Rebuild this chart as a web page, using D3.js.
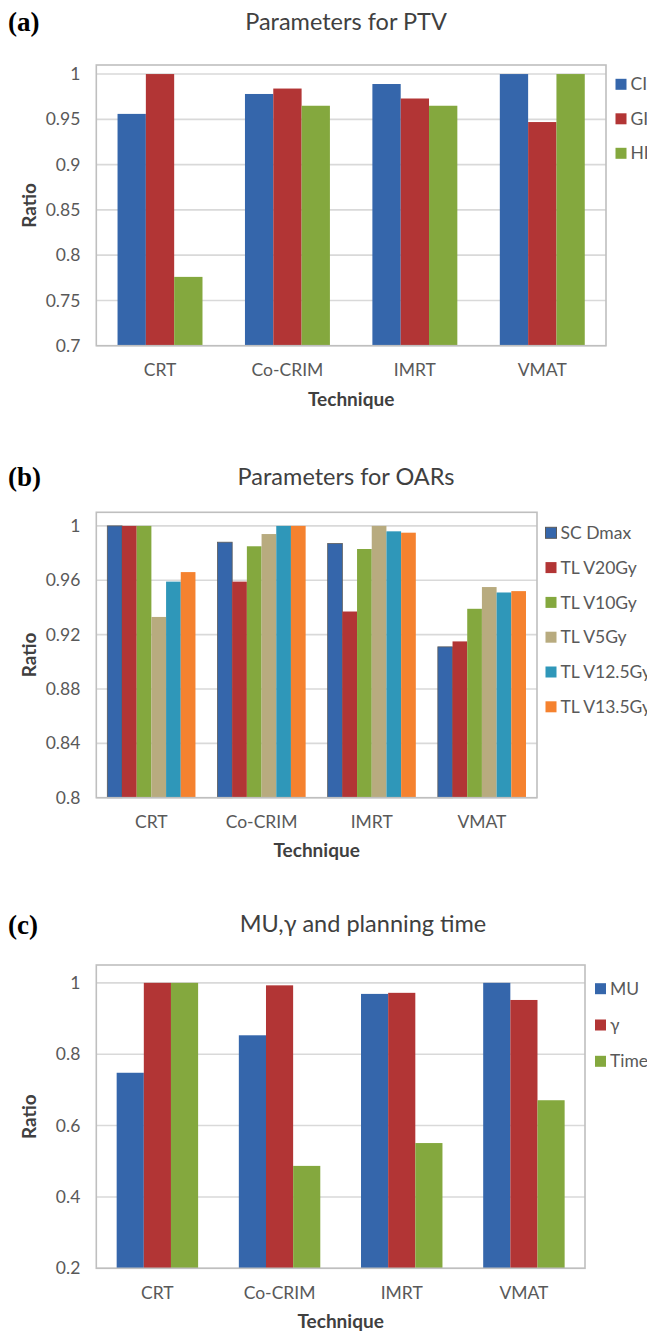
<!DOCTYPE html>
<html>
<head>
<meta charset="utf-8">
<script src="https://cdn.jsdelivr.net/npm/d3@7"></script>
<style>
  body { margin: 0; background: #fff; }
  svg { display: block; font-family: Lato, "Open Sans", sans-serif; }
</style>
</head>
<body>
<svg id="chart" width="647" height="1331"></svg>
<script>
// categories shared by all three panels
const categories = ["CRT", "Co-CRIM", "IMRT", "VMAT"];

// (a) Parameters for PTV
const ptvSeries = ["CI", "GI", "HI"];
const ptvCI = [0.956, 0.978, 0.989, 1.0];
const ptvGI = [1.0, 0.984, 0.973, 0.947];
const ptvHI = [0.776, 0.965, 0.965, 1.0];
const ptvTicks = [0.7, 0.75, 0.8, 0.85, 0.9, 0.95, 1];

// (b) Parameters for OARs
const oarSeries = ["SC Dmax", "TL V20Gy", "TL V10Gy", "TL V5Gy", "TL V12.5Gy", "TL V13.5Gy"];
const oarSCDmax = [1.0, 0.988, 0.987, 0.911];
const oarV20 = [1.0, 0.959, 0.937, 0.915];
const oarV10 = [1.0, 0.985, 0.983, 0.939];
const oarV5 = [0.933, 0.994, 1.0, 0.955];
const oarV125 = [0.959, 1.0, 0.996, 0.951];
const oarV135 = [0.966, 1.0, 0.995, 0.952];
const oarTicks = [0.8, 0.84, 0.88, 0.92, 0.96, 1];

// (c) MU, gamma and planning time
const muSeries = ["MU", "γ", "Time"];
const muMU = [0.748, 0.853, 0.969, 1.0];
const muGamma = [1.0, 0.993, 0.972, 0.952];
const muTime = [1.0, 0.487, 0.551, 0.671];
const muTicks = [0.2, 0.4, 0.6, 0.8, 1];

const blue = "#3566ab", red = "#b23535", green = "#84a83e",
      tan = "#b8ab7f", teal = "#2f97b9", orange = "#f5822f";

const svg = d3.select("#chart");

function drawPanel(p) {
  let g = svg.append("g");

  // panel letter and title
  g.append("text")
      .attr("x", 8).attr("y", p.letterY)
      .attr("font-family", "'Liberation Serif', 'DejaVu Serif', serif")
      .attr("font-weight", "bold").attr("font-size", 27)
      .attr("fill", "#000")
      .text(p.letter);
  g.append("text")
      .attr("x", p.titleX).attr("y", p.titleY)
      .attr("text-anchor", "middle")
      .attr("font-size", 23.5).attr("fill", "#404040")
      .text(p.title);

  let x = d3.scaleBand()
      .domain(categories)
      .range([p.left, p.right])
      .paddingInner(p.pad)
      .paddingOuter(p.pad / 2);
  let xs = d3.scaleBand()
      .domain(p.series)
      .range([0, x.bandwidth()]);
  let y = d3.scaleLinear()
      .domain(p.domain)
      .range([p.bottom, p.top]);

  // gridlines
  g.append("g")
      .selectAll("line")
      .data(p.ticks)
      .join("line")
      .attr("x1", p.left).attr("x2", p.right)
      .attr("y1", d => y(d)).attr("y2", d => y(d))
      .attr("stroke", "#d9d9d9").attr("stroke-width", 1.6);

  // bars
  p.series.forEach((s, i) => {
    g.append("g")
        .selectAll("rect")
        .data(p.values[i])
        .join("rect")
        .attr("x", (d, j) => x(categories[j]) + xs(s))
        .attr("y", d => y(d))
        .attr("width", xs.bandwidth())
        .attr("height", d => p.bottom - y(d))
        .attr("fill", p.colors[i])
        .attr("stroke", p.outline && i == 0 ? "#5a5a5a" : "none")
        .attr("stroke-width", 0.8);
  });

  // plot frame
  g.append("rect")
      .attr("x", p.left).attr("y", p.top)
      .attr("width", p.right - p.left).attr("height", p.bottom - p.top)
      .attr("fill", "none").attr("stroke", "#bfbfbf").attr("stroke-width", 1.6);

  // axes
  let yAxis = g.append("g")
      .attr("transform", "translate(" + p.left + ",0)")
      .call(d3.axisLeft(y).tickValues(p.ticks).tickSize(0).tickPadding(16)
            .tickFormat(d3.format("~g")));
  yAxis.select(".domain").remove();
  yAxis.selectAll("text")
      .attr("font-family", "Lato, sans-serif")
      .attr("font-size", 17.5).attr("fill", "#595959");

  let xAxis = g.append("g")
      .attr("transform", "translate(0," + p.bottom + ")")
      .call(d3.axisBottom(x).tickSize(0).tickPadding(p.xPad));
  xAxis.select(".domain").remove();
  xAxis.selectAll("text")
      .attr("font-family", "Lato, sans-serif")
      .attr("font-size", 17.5).attr("fill", "#595959");

  // axis titles
  g.append("text")
      .attr("x", (p.left + p.right) / 2).attr("y", p.techY)
      .attr("text-anchor", "middle")
      .attr("font-size", 19).attr("font-weight", "bold").attr("fill", "#404040")
      .text("Technique");
  g.append("text")
      .attr("transform", "translate(" + 36 + "," + (p.top + p.bottom) / 2 + ") rotate(-90)")
      .attr("text-anchor", "middle")
      .attr("font-size", 19).attr("font-weight", "bold").attr("fill", "#404040")
      .text("Ratio");

  // legend
  let legend = g.append("g")
      .selectAll("g")
      .data(p.series)
      .join("g")
      .attr("transform", (d, i) => "translate(" + p.legendX + "," + (p.legendY + i * p.legendDy) + ")");
  legend.append("rect")
      .attr("x", 0).attr("y", -5.5)
      .attr("width", 11).attr("height", 11)
      .attr("fill", (d, i) => p.colors[i])
      .attr("stroke", (d, i) => p.outline && i == 0 ? "#5a5a5a" : "none");
  legend.append("text")
      .attr("x", 15).attr("y", 0).attr("dy", "0.35em")
      .attr("font-size", 17.5).attr("fill", "#595959")
      .text(d => d);
}

drawPanel({
  letter: "(a)", letterY: 31, title: "Parameters for PTV", titleX: 346, titleY: 30,
  series: ptvSeries, values: [ptvCI, ptvGI, ptvHI], colors: [blue, red, green],
  left: 96.3, right: 606, top: 65, bottom: 345.7, domain: [0.7, 1.01], ticks: ptvTicks,
  pad: 1 / 3, xPad: 18, techY: 406,
  legendX: 615.5, legendY: 84.3, legendDy: 34.5
});

drawPanel({
  letter: "(b)", letterY: 486, title: "Parameters for OARs", titleX: 346, titleY: 485,
  series: oarSeries, values: [oarSCDmax, oarV20, oarV10, oarV5, oarV125, oarV135],
  colors: [blue, red, green, tan, teal, orange], outline: true,
  left: 96.3, right: 537, top: 512.3, bottom: 797.7, domain: [0.8, 1.01], ticks: oarTicks,
  pad: 0.2, xPad: 18, techY: 857,
  legendX: 545.5, legendY: 532.8, legendDy: 34.8
});

drawPanel({
  letter: "(c)", letterY: 934, title: "MU,γ and planning time", titleX: 363, titleY: 931.5,
  series: muSeries, values: [muMU, muGamma, muTime], colors: [blue, red, green],
  left: 96.3, right: 585, top: 965, bottom: 1268.3, domain: [0.2, 1.05], ticks: muTicks,
  pad: 1 / 3, xPad: 18, techY: 1328,
  legendX: 595, legendY: 988.7, legendDy: 36.3
});
</script>
</body>
</html>
